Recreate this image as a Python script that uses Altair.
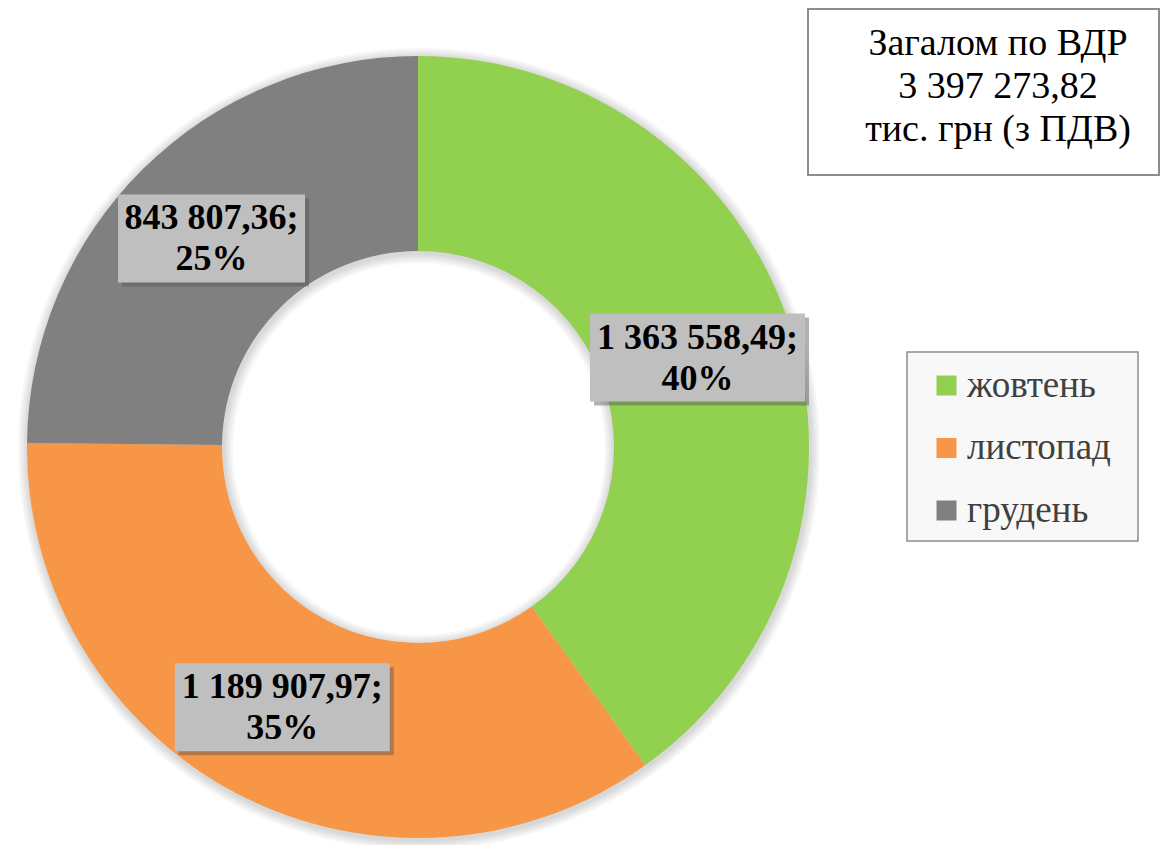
import altair as alt
import pandas as pd

months = ["жовтень", "листопад", "грудень"]
values = [1363558.49, 1189907.97, 843807.36]
colors = ["#92D050", "#F79646", "#808080"]

title_lines = ["Загалом по ВДР", "тис. грн (з ПДВ)"]

FONT = "Liberation Serif"


def fmt(v):
    return f"{v:,.2f}".replace(",", " ").replace(".", ",")


total = sum(values)
labels = []
for v in values:
    labels.append(f"{fmt(v)};\n{round(v / total * 100)}%")

df = pd.DataFrame({
    "month": months,
    "value": values,
    "idx": list(range(len(months))),
    "label": labels,
    "nchar": [len(l.split("\n")[0]) for l in labels],
})

CX, CY = 410, 439
R_OUT, R_IN = 391, 196
R_LAB = (R_OUT + R_IN) / 2

base = alt.Chart(df)

theta = alt.Theta("value:Q", stack=True)
order = alt.Order("idx:Q")

shadows = [
    base.mark_arc(outerRadius=R_OUT + k, innerRadius=R_IN - k, color="#000000", opacity=0.03)
    .encode(theta=theta, order=order, x=alt.value(CX + 1), y=alt.value(CY + 2))
    for k in (2, 4, 6, 8, 10)
]

legend_box = alt.Chart(pd.DataFrame({"a": [0]})).mark_rect(
    fill="#F8F8F8", stroke="#8C8C8C", strokeWidth=1.5
).encode(x=alt.value(899), x2=alt.value(1130), y=alt.value(344), y2=alt.value(533))

arcs = base.mark_arc(outerRadius=R_OUT, innerRadius=R_IN).encode(
    theta=theta,
    order=order,
    x=alt.value(CX),
    y=alt.value(CY),
    color=alt.Color(
        "month:N",
        sort=months,
        scale=alt.Scale(domain=months, range=colors),
        legend=alt.Legend(
            title=None,
            orient="none",
            legendX=920,
            legendY=359,
            padding=0,
            rowPadding=24.5,
            symbolType="square",
            symbolSize=400,
            symbolStrokeWidth=0,
            labelFont=FONT,
            labelFontSize=37,
            labelColor="#404040",
            labelOffset=2,
            labelLimit=300,
        ),
    ),
)

pos = (
    base.transform_joinaggregate(total="sum(value)")
    .transform_window(cum="sum(value)", sort=[alt.SortField("idx")], frame=[None, 0])
    .transform_calculate(mid="(datum.cum - datum.value / 2) / datum.total * 2 * PI")
    .transform_calculate(
        lx=f"{CX} + {R_LAB} * sin(datum.mid)",
        ly=f"{CY} - {R_LAB} * cos(datum.mid)",
        hw="(14 * datum.nchar + 33) / 2",
    )
    .transform_calculate(
        ty="datum.ly - 20",
        bx1="datum.lx - datum.hw",
        bx2="datum.lx + datum.hw",
        by1="datum.ly - 44",
        by2="datum.ly + 44",
        sx1="datum.lx - datum.hw + 4",
        sx2="datum.lx + datum.hw + 4",
        sy1="datum.ly - 44 + 4",
        sy2="datum.ly + 44 + 4",
    )
)

box_shadow = pos.mark_rect(color="#555555", opacity=0.45).encode(
    x=alt.X("sx1:Q", scale=None, axis=None),
    x2="sx2:Q",
    y=alt.Y("sy1:Q", scale=None, axis=None),
    y2="sy2:Q",
)
boxes = pos.mark_rect(color="#BFBFBF").encode(
    x=alt.X("bx1:Q", scale=None, axis=None),
    x2="bx2:Q",
    y=alt.Y("by1:Q", scale=None, axis=None),
    y2="by2:Q",
)
texts = pos.mark_text(
    font=FONT,
    fontSize=36,
    fontWeight="bold",
    lineBreak="\n",
    lineHeight=41,
    align="center",
    baseline="middle",
    color="#000000",
).encode(
    x=alt.X("lx:Q", scale=None, axis=None),
    y=alt.Y("ty:Q", scale=None, axis=None),
    text="label:N",
)

title_df = pd.DataFrame({"t": [f"{title_lines[0]}\n{fmt(total)}\n{title_lines[1]}"]})
title_box = alt.Chart(title_df).mark_rect(
    fill="white", stroke="#8C8C8C", strokeWidth=2
).encode(x=alt.value(800), x2=alt.value(1151), y=alt.value(1), y2=alt.value(167))
title_text = alt.Chart(title_df).mark_text(
    font=FONT,
    fontSize=38,
    lineBreak="\n",
    lineHeight=43,
    align="center",
    baseline="middle",
    color="#000000",
).encode(x=alt.value(990), y=alt.value(36), text="t:N")

chart = (
    alt.layer(*shadows, legend_box, arcs, box_shadow, boxes, texts, title_box, title_text)
    .properties(width=1152, height=837, padding=0, autosize=alt.AutoSizeParams(type="none"))
    .configure(font=FONT)
    .configure_view(stroke=None)
)

chart.save("out.html", embed_options={"renderer": "svg", "actions": False})
